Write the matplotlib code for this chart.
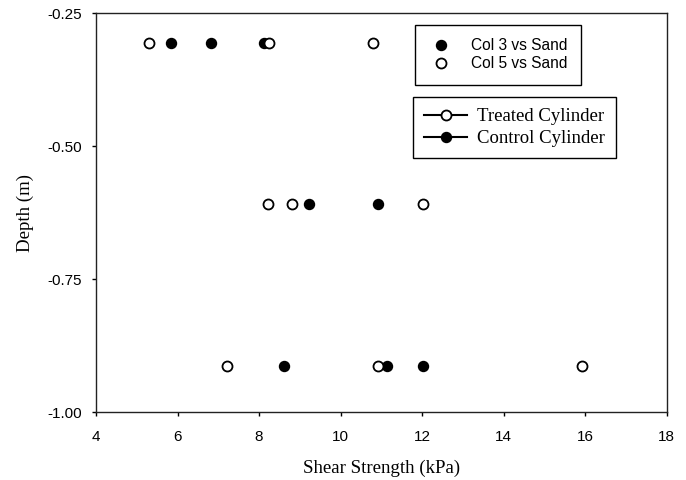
import numpy as np
import matplotlib.pyplot as plt
from matplotlib.lines import Line2D

# Col 3 vs Sand (filled) and Col 5 vs Sand (open)
col3_strength = [5.84, 6.82, 8.12, 9.22, 10.92, 8.62, 11.13, 12.01]
col3_depth = [-0.305, -0.305, -0.305, -0.608, -0.608, -0.913, -0.913, -0.913]
col5_strength = [5.31, 8.24, 10.80, 8.21, 8.82, 12.01, 7.21, 10.91, 15.92]
col5_depth = [-0.305, -0.305, -0.305, -0.608, -0.608, -0.608, -0.913, -0.913, -0.913]

x_ticks = [4, 6, 8, 10, 12, 14, 16, 18]
y_ticks = [-1.00, -0.75, -0.50, -0.25]

SANS = 'Liberation Sans'
SERIF = 'Liberation Serif'

fig = plt.figure(figsize=(6.86, 4.80), dpi=100)
ax = fig.add_axes([96/686, 1 - 412.3/480, (666.7 - 96)/686, (412.3 - 13.3)/480])

ms = 7.2
ax.plot(col3_strength, col3_depth, 'o', color='black', ms=ms, mec='black', zorder=3)
ax.plot(col5_strength, col5_depth, 'o', mfc='white', mec='black', mew=1.3, ms=ms, zorder=3)

ax.set_xlim(4, 18)
ax.set_ylim(-1.0, -0.25)
ax.set_xticks(x_ticks)
ax.set_yticks(y_ticks)
ax.set_xticklabels([str(t) for t in x_ticks], fontfamily=SANS, fontsize=11)
ax.set_yticklabels([f'{t:.2f}' for t in y_ticks], fontfamily=SANS, fontsize=11)
ax.tick_params(axis='x', direction='out', length=3, width=1, pad=10, top=False)
ax.tick_params(axis='y', direction='out', length=3, width=1, pad=7, right=False)
for sp in ax.spines.values():
    sp.set_linewidth(1.0)
    sp.set_color('#222222')

ax.set_xlabel('Shear Strength (kPa)', fontfamily=SERIF, fontsize=13.6, labelpad=11)
ax.set_ylabel('Depth (m)', fontfamily=SERIF, fontsize=13.6, labelpad=10)

# legend for the two series
h1 = [Line2D([], [], ls='none', marker='o', color='black', ms=ms),
      Line2D([], [], ls='none', marker='o', mfc='white', mec='black', mew=1.3, ms=ms)]
leg1 = ax.legend(h1, ['Col 3 vs Sand', 'Col 5 vs Sand'],
                 loc='upper left', bbox_to_anchor=(415/686, 1 - 25/480),
                 bbox_transform=fig.transFigure,
                 prop={'family': SANS, 'size': 11.2}, frameon=True, fancybox=False,
                 edgecolor='black', framealpha=1, handlelength=1.6, handletextpad=1.15,
                 borderpad=0.85, labelspacing=0.2, borderaxespad=0)
leg1.get_frame().set_linewidth(1.0)
ax.add_artist(leg1)

# legend for cylinder type
h2 = [Line2D([], [], color='black', lw=1.5, marker='o', mfc='white', mec='black', mew=1.3, ms=ms),
      Line2D([], [], color='black', lw=1.5, marker='o', mfc='black', mec='black', ms=ms)]
leg2 = ax.legend(h2, ['Treated Cylinder', 'Control Cylinder'],
                 loc='upper left', bbox_to_anchor=(413/686, 1 - 97/480),
                 bbox_transform=fig.transFigure,
                 prop={'family': SERIF, 'size': 13.5}, frameon=True, fancybox=False,
                 edgecolor='black', framealpha=1, handlelength=2.3, handletextpad=0.5,
                 borderpad=0.6, labelspacing=0.25, borderaxespad=0)
leg2.get_frame().set_linewidth(1.0)

fig.savefig('out.png', dpi=100)
